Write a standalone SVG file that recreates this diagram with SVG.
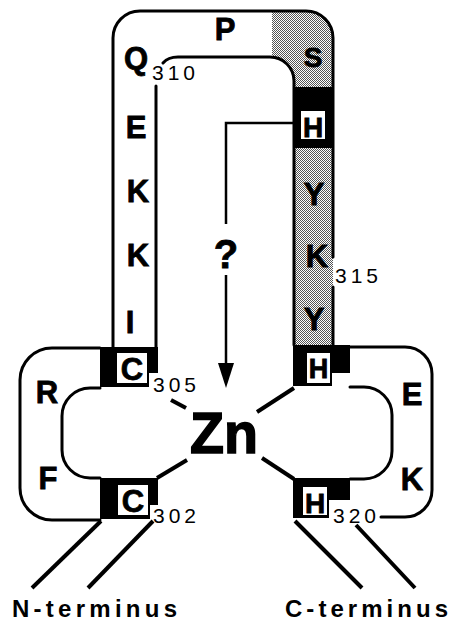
<svg xmlns="http://www.w3.org/2000/svg" width="451" height="623" viewBox="0 0 451 623">
<defs>
<pattern id="dots" width="2" height="2" patternUnits="userSpaceOnUse">
<rect width="2" height="2" fill="#ffffff"/>
<rect width="1" height="1" fill="#555"/>
<rect x="1" y="1" width="1" height="1" fill="#555"/>
</pattern>
</defs>
<style>
.ol{fill:none;stroke:#000;stroke-width:3;stroke-linecap:round;stroke-linejoin:round}
.bd{fill:none;stroke:#000;stroke-width:4;stroke-linecap:butt}
.aa{font-family:"Liberation Sans",Arial,sans-serif;font-weight:bold;font-size:31px;fill:#000;stroke:#000;stroke-width:0.8px;text-anchor:middle}
.num{font-family:"Liberation Sans",Arial,sans-serif;font-size:21px;fill:#000;letter-spacing:4px}
.term{font-family:"Liberation Sans",Arial,sans-serif;font-weight:bold;font-size:24px;fill:#000}
</style>
<rect width="451" height="623" fill="#fff"/>

<g id="shading">
<path d="M272,11 H306 A27,27 0 0 1 333,38 V87 H294 V81 A24,24 0 0 0 270,57 H272 Z" fill="url(#dots)"/>
<rect x="294" y="87" width="39" height="61" fill="#000"/>
<rect x="301" y="111" width="24" height="28" fill="#fff"/>
<rect x="294" y="148" width="39" height="197" fill="url(#dots)"/>
</g>

<g id="loop-outline">
<path class="ol" d="M113,347 V38 A27,27 0 0 1 140,11 H306 A27,27 0 0 1 333,38 V257 M333,287 V345"/>
<path class="ol" d="M156,86 V347"/>
<path class="ol" d="M163,63 Q168,57 178,57 H270 A24,24 0 0 1 294,81 V345"/>
<path class="ol" d="M100,348 H52 A32,32 0 0 0 20,380 V488 A32,32 0 0 0 52,520 H100"/>
<path class="ol" d="M100,388 H90 A28,28 0 0 0 62,416 V450 A28,28 0 0 0 90,478 H100"/>
<path class="ol" d="M350,347 H405 A27,27 0 0 1 432,374 V490 A27,27 0 0 1 405,517 H381"/>
<path class="ol" d="M350,387 H364 A28,28 0 0 1 392,415 V451 A28,28 0 0 1 364,479 H350"/>
</g>

<g id="C305">
<path d="M100,347 H158 V373 H149 V387 H100 Z" fill="#000"/>
<rect x="117" y="353" width="30" height="30" fill="#fff"/>
<text class="aa" x="132" y="380">C</text>
</g>
<g id="C302">
<path d="M100,478 H158 V505 H150 V519 H100 Z" fill="#000"/>
<rect x="118" y="485" width="30" height="30" fill="#fff"/>
<text class="aa" x="133" y="512">C</text>
</g>
<g id="H316">
<path d="M293,345 H350 V373 H332 V386 H293 Z" fill="#000"/>
<rect x="307" y="353" width="23" height="30" fill="#fff"/>
<text class="aa" x="318.5" y="378" style="font-size:27px">H</text>
</g>
<g id="H320">
<path d="M293,478 H350 V500 H329 V518 H293 Z" fill="#000"/>
<rect x="303" y="487" width="24" height="28" fill="#fff"/>
<text class="aa" x="315" y="513" style="font-size:28px">H</text>
</g>

<g id="residues">
<text class="aa" x="225" y="40">P</text>
<text class="aa" x="136" y="69">Q</text>
<text class="aa" x="136" y="138">E</text>
<text class="aa" x="138" y="202">K</text>
<text class="aa" x="138" y="266">K</text>
<text class="aa" x="130" y="333">I</text>
<text class="aa" x="313" y="67" style="font-size:28px">S</text>
<text class="aa" x="313" y="137" style="font-size:28px">H</text>
<text class="aa" x="314" y="205">Y</text>
<text class="aa" x="317" y="267">K</text>
<text class="aa" x="314" y="330">Y</text>
<text class="aa" x="47" y="403">R</text>
<text class="aa" x="48" y="489">F</text>
<text class="aa" x="412" y="405">E</text>
<text class="aa" x="412" y="490">K</text>
</g>

<g id="numbers">
<text class="num" x="152" y="80">310</text>
<text class="num" x="335" y="283">315</text>
<text class="num" x="153" y="392">305</text>
<text class="num" x="153" y="523">302</text>
<text class="num" x="333" y="523">320</text>
</g>

<g id="Zn">
<text x="190" y="453" font-family="'Liberation Sans',Arial,sans-serif" font-weight="bold" font-size="58" stroke="#000" stroke-width="1.5" textLength="68" lengthAdjust="spacingAndGlyphs">Zn</text>
</g>

<g id="connectors">
<path class="bd" d="M171,400 L186,408"/>
<path class="bd" d="M157,478 L187,460"/>
<path class="bd" d="M294,388 L257,412"/>
<path class="bd" d="M262,458 L294,479"/>
<path class="bd" d="M101,521 L32,588"/>
<path class="bd" d="M153,521 L88,588"/>
<path class="bd" d="M295,521 L362,588"/>
<path class="bd" d="M356,525 L415,588"/>
<path fill="none" stroke="#000" stroke-width="2.5" d="M293,123 H226 V224 M226,275 V365"/>
<polygon points="218,363 234,363 226,388" fill="#000"/>
</g>

<g id="question">
<text class="aa" x="226" y="268" style="font-size:40px">?</text>
</g>

<g id="termini">
<text class="term" x="12" y="617" textLength="165" lengthAdjust="spacing">N-terminus</text>
<text class="term" x="285" y="617" textLength="163" lengthAdjust="spacing">C-terminus</text>
</g>
</svg>
